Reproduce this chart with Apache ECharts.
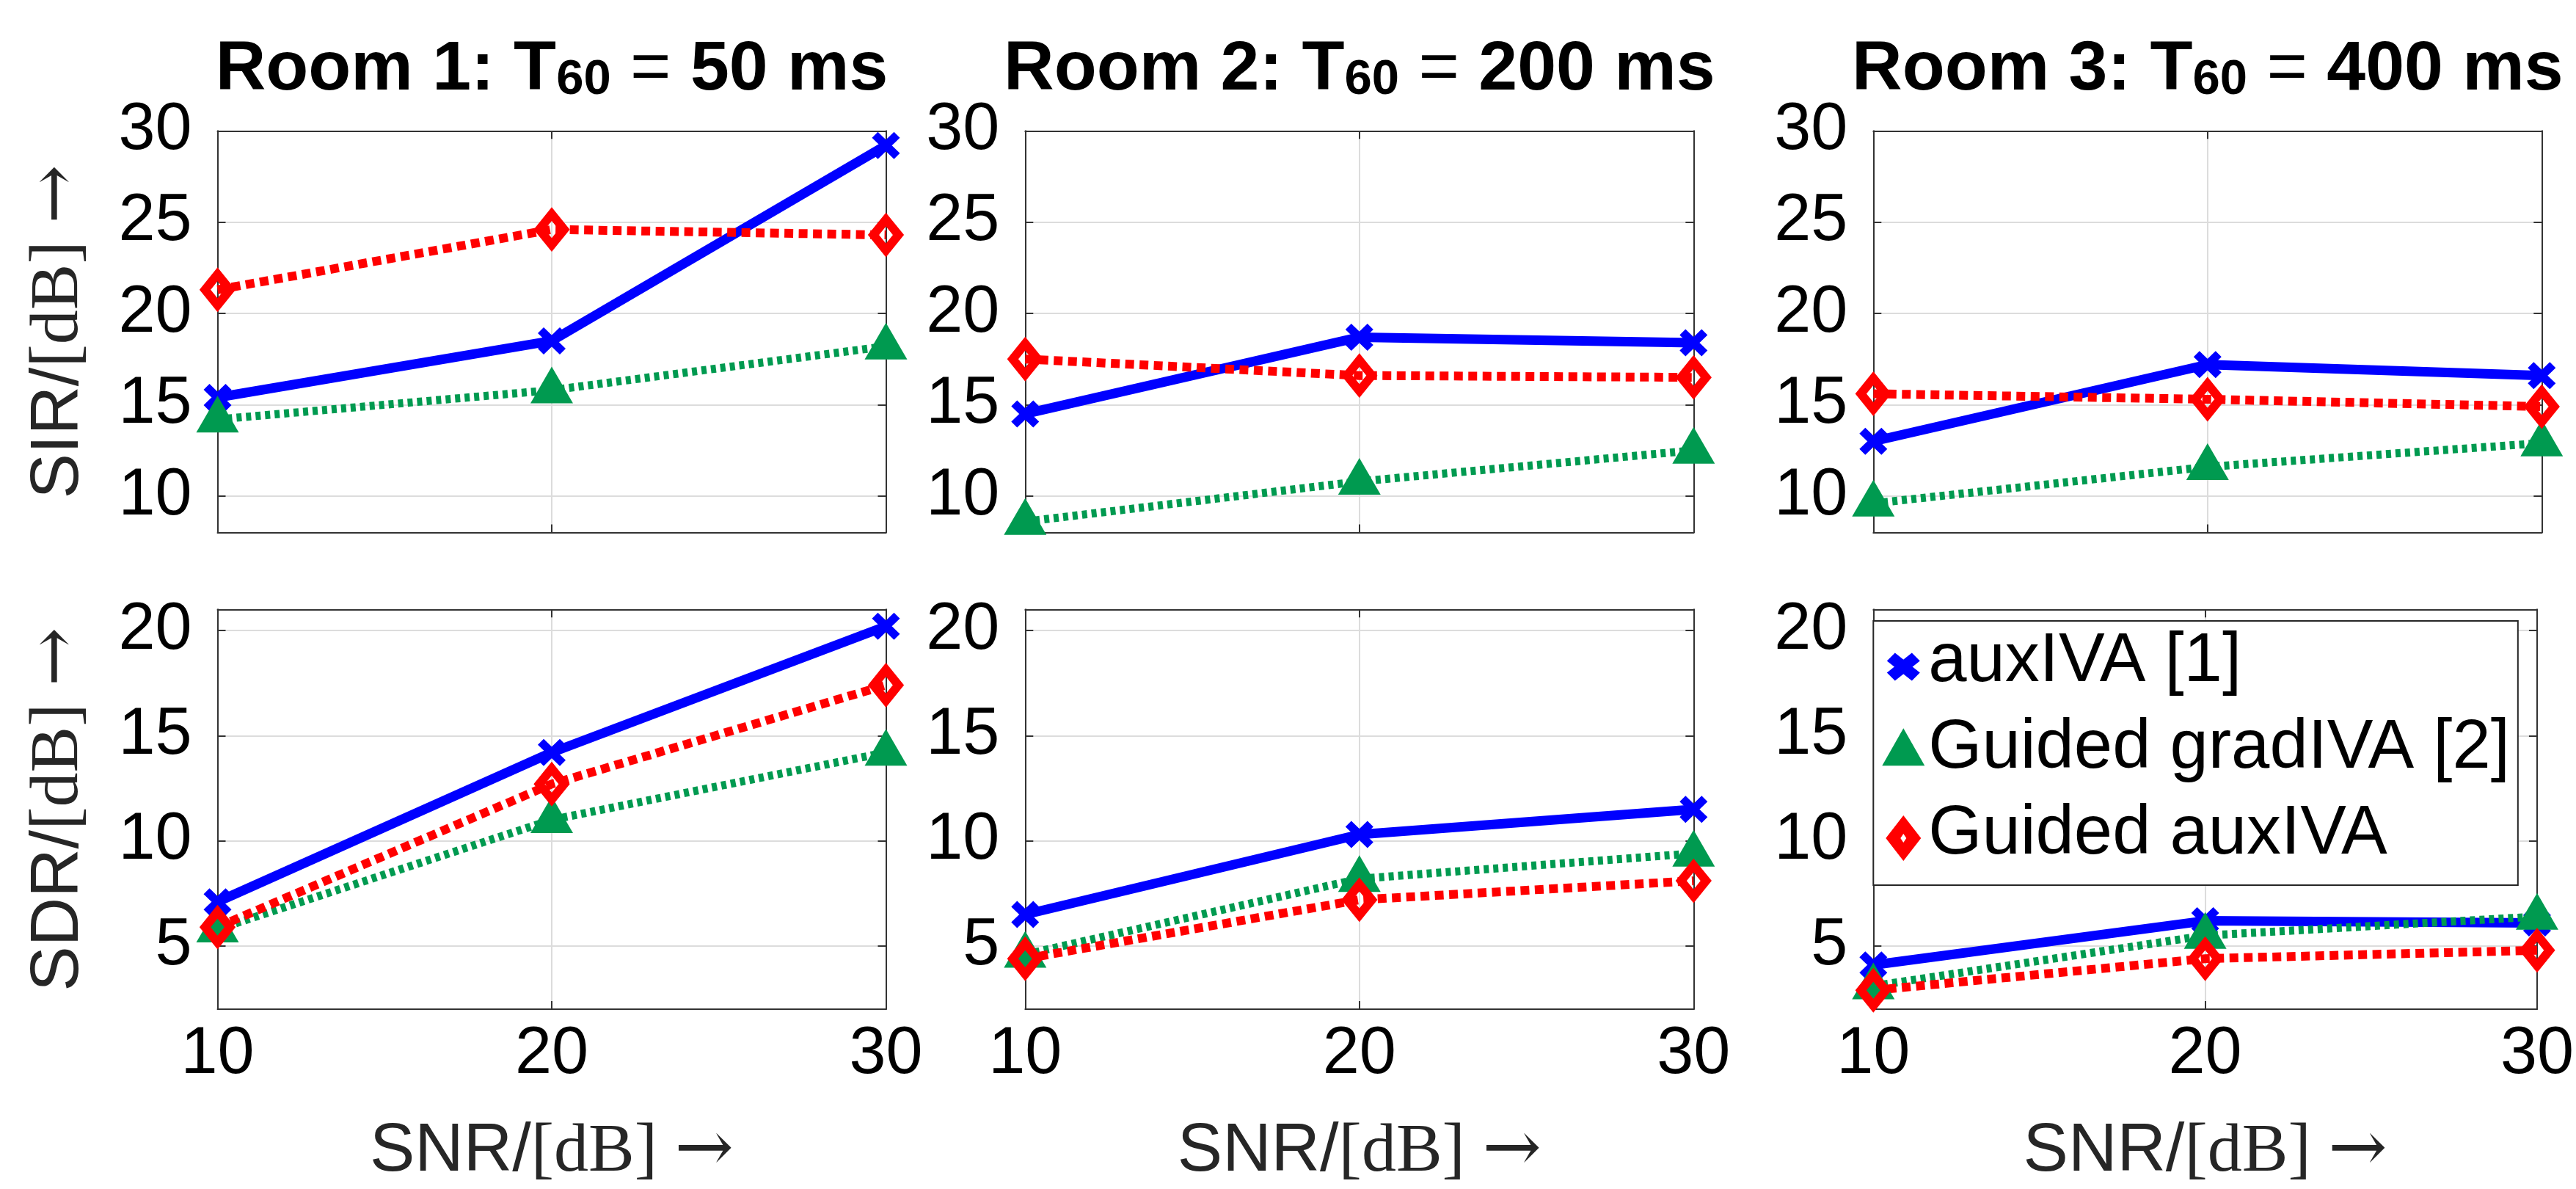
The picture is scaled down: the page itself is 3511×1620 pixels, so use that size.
<!DOCTYPE html>
<html>
<head>
<meta charset="utf-8">
<script src="https://cdn.jsdelivr.net/npm/echarts@6/dist/echarts.min.js"></script>
<style>
html,body{margin:0;padding:0;background:#fff;}
#chart{width:3511px;height:1620px;}
</style>
</head>
<body>
<div id="chart"></div>
<script>
// ---------------- data ----------------
const snr = [10, 20, 30];
const roomLabels = ['Room 1: T', 'Room 2: T', 'Room 3: T'];
const t60Labels = ['50 ms', '200 ms', '400 ms'];
const methodNames = ['auxIVA [1]', 'Guided gradIVA [2]', 'Guided auxIVA'];
const sirTicks = [10, 15, 20, 25, 30];
const sdrTicks = [5, 10, 15, 20];
const snrTicks = [10, 20, 30];

// SIR per room (values at SNR 10, 20, 30)
const sirAuxIVA    = [[15.4, 18.5, 29.2], [14.5, 18.7, 18.4], [13.0, 17.2, 16.6]];
const sirGradIVA   = [[14.2, 15.8, 18.2], [8.6, 10.8, 12.5], [9.6, 11.6, 12.9]];
const sirGuidedAux = [[21.3, 24.6, 24.3], [17.5, 16.6, 16.5], [15.6, 15.3, 14.9]];
// SDR per room
const sdrAuxIVA    = [[7.1, 14.2, 20.2], [6.5, 10.3, 11.5], [4.1, 6.2, 6.1]];
const sdrGradIVA   = [[5.8, 11.0, 14.2], [4.6, 8.2, 9.4], [3.1, 5.5, 6.4]];
const sdrGuidedAux = [[5.9, 12.7, 17.4], [4.4, 7.2, 8.1], [2.9, 4.4, 4.8]];

// ---------------- layout / style ----------------
const colLeft = [296.5, 1397.3, 2553.3];
const plotW = 911;
const rowTop = [178.3, 830.3];
const rowH = [547.3, 544.7];
const yRange = [[8, 30], [2, 21]];
const AX = '#333333';
const GRIDC = '#dcdcdc';
const BLUE = '#0000ff', GREEN = '#009a50', RED = '#ff0000';
const SANS = 'Liberation Sans', SERIF = 'Liberation Serif';

const X_PLOT = 'path://M0 8 L8 0 L38 29 L30 37 Z M30 0 L38 8 L8 37 L0 29 Z';
const X_LEG = 'path://M0 0 M58 72 M6.5 34 L17.5 23 L51.5 50 L40.5 61 Z M40.5 23 L51.5 34 L17.5 61 L6.5 50 Z';
const TRI_LEG = 'path://M0 0 M58 72 M29 8.5 L58 59.5 L0 59.5 Z';
const DIA_LEG = 'path://M0 0 M58 72 M29 10 L53 41 L29 72 L5 41 Z M29 35 L25 41 L29 47 L33 41 Z';

const nameRich = {
  s: {fontFamily: SANS, fontSize: 92, color: '#262626'},
  m: {fontFamily: SERIF, fontSize: 94, color: '#262626'},
  a: {fontFamily: 'DejaVu Serif', fontSize: 96, color: '#262626'}
};

const grids = [], xAxes = [], yAxes = [], series = [], titles = [];

const rowData = [
  [sirAuxIVA, sirGradIVA, sirGuidedAux],
  [sdrAuxIVA, sdrGradIVA, sdrGuidedAux]
];
const rowTicks = [sirTicks, sdrTicks];
const rowName = ['SIR/', 'SDR/'];

for (let r = 0; r < 2; r++) {
  for (let c = 0; c < 3; c++) {
    const g = r * 3 + c;
    grids.push({left: colLeft[c], top: rowTop[r], width: plotW, height: rowH[r], containLabel: false});
    const ticks = rowTicks[r];
    // bottom x axis
    xAxes.push({
      gridIndex: g, type: 'value', position: 'bottom', min: 10, max: 30, interval: 10,
      axisLine: {show: true, onZero: false, lineStyle: {color: AX, width: 2}},
      axisTick: {show: true, inside: true, length: 11, lineStyle: {color: AX, width: 2}},
      axisLabel: {show: r === 1, fontSize: 90, fontFamily: SANS, color: '#000', margin: 17,
        formatter: v => snrTicks.includes(v) ? String(v) : ''},
      splitLine: {show: true, lineStyle: {color: GRIDC, width: 2}},
      name: r === 1 ? '{s|SNR/}{m|[dB] }{a|→}' : '',
      nameLocation: 'middle', nameGap: 147,
      nameTextStyle: {fontSize: 90, color: '#262626', rich: nameRich}
    });
    // top x axis (box)
    xAxes.push({
      gridIndex: g, type: 'value', position: 'top', min: 10, max: 30, interval: 10,
      axisLine: {show: true, onZero: false, lineStyle: {color: AX, width: 2}},
      axisTick: {show: true, inside: true, length: 11, lineStyle: {color: AX, width: 2}},
      axisLabel: {show: false}, splitLine: {show: false}
    });
    // left y axis
    yAxes.push({
      gridIndex: g, type: 'value', position: 'left', min: yRange[r][0], max: yRange[r][1],
      minInterval: 5, maxInterval: 5, splitNumber: 4,
      axisLine: {show: true, onZero: false, lineStyle: {color: AX, width: 2}},
      axisTick: {show: true, inside: true, length: 11, lineStyle: {color: AX, width: 2}},
      axisLabel: {show: true, fontSize: 90, fontFamily: SANS, color: '#000', margin: 35,
        formatter: v => ticks.includes(v) ? String(v) : ''},
      splitLine: {show: true, lineStyle: {color: GRIDC, width: 2}},
      name: c === 0 ? '{s|' + rowName[r] + '}{m|[dB] }{a|→}' : '',
      nameLocation: 'middle', nameRotate: 90, nameGap: 168,
      nameTextStyle: {fontSize: 90, color: '#262626', rich: nameRich}
    });
    // right y axis (box)
    yAxes.push({
      gridIndex: g, type: 'value', position: 'right', min: yRange[r][0], max: yRange[r][1],
      minInterval: 5, maxInterval: 5, splitNumber: 4,
      axisLine: {show: true, onZero: false, lineStyle: {color: AX, width: 2}},
      axisTick: {show: true, inside: true, length: 11, lineStyle: {color: AX, width: 2}},
      axisLabel: {show: false}, splitLine: {show: false}
    });

    const d = rowData[r];
    const mk = (vals) => snr.map((x, i) => [x, vals[i]]);
    series.push({
      name: methodNames[0], type: 'line', xAxisIndex: 2 * g, yAxisIndex: 2 * g,
      data: mk(d[0][c]), clip: false, animation: false,
      lineStyle: {color: BLUE, width: 13, type: 'solid'},
      symbol: X_PLOT, symbolSize: [38, 37], showSymbol: true,
      itemStyle: {color: BLUE, borderWidth: 0}, emphasis: {disabled: true}
    });
    series.push({
      name: methodNames[1], type: 'line', xAxisIndex: 2 * g, yAxisIndex: 2 * g,
      data: mk(d[1][c]), clip: false, animation: false,
      lineStyle: {color: GREEN, width: 11, type: [7, 6]},
      symbol: 'triangle', symbolSize: [58, 50], symbolOffset: [0, -7], showSymbol: true,
      itemStyle: {color: GREEN, borderWidth: 0}, emphasis: {disabled: true}
    });
    series.push({
      name: methodNames[2], type: 'line', xAxisIndex: 2 * g, yAxisIndex: 2 * g,
      data: mk(d[2][c]), clip: false, animation: false,
      lineStyle: {color: RED, width: 12, type: [12, 7.5]},
      symbol: 'diamond', symbolSize: [34, 42], showSymbol: true,
      itemStyle: {color: 'rgba(255,255,255,0)', borderColor: RED, borderWidth: 12},
      emphasis: {disabled: true}
    });
  }
}

for (let c = 0; c < 3; c++) {
  titles.push({
    text: '{b|' + roomLabels[c] + '}{sub|60}{eq| = }{b|' + t60Labels[c] + '}',
    left: colLeft[c] + plotW / 2, top: 96, textAlign: 'center', textVerticalAlign: 'middle', padding: 0,
    textStyle: {
      rich: {
        b: {fontFamily: SANS, fontWeight: 'bold', fontSize: 95, color: '#000', lineHeight: 95, verticalAlign: 'bottom'},
        sub: {fontFamily: SANS, fontWeight: 'bold', fontSize: 67, color: '#000', lineHeight: 47, verticalAlign: 'bottom'},
        eq: {fontFamily: SANS, fontWeight: 'normal', fontSize: 95, color: '#000', lineHeight: 95, verticalAlign: 'bottom'}
      }
    }
  });
}

const option = {
  animation: false,
  backgroundColor: '#ffffff',
  title: titles,
  grid: grids,
  xAxis: xAxes,
  yAxis: yAxes,
  series: series,
  legend: {
    orient: 'vertical', left: 2553.3, top: 846,
    padding: [9.5, 11, 22, 12],
    itemWidth: 58, itemHeight: 72, itemGap: 23.25,
    borderColor: '#262626', borderWidth: 2, backgroundColor: '#ffffff',
    selectedMode: false, z: 10,
    textStyle: {fontFamily: SANS, fontSize: 94, color: '#000', lineHeight: 72},
    data: [
      {name: methodNames[0], icon: X_LEG, itemStyle: {color: BLUE, borderWidth: 0}},
      {name: methodNames[1], icon: TRI_LEG, itemStyle: {color: GREEN, borderWidth: 0}},
      {name: methodNames[2], icon: DIA_LEG, itemStyle: {color: RED, borderWidth: 0}}
    ]
  }
};

const chart = echarts.init(document.getElementById('chart'), null, {renderer: 'canvas'});
chart.setOption(option);
</script>
</body>
</html>
